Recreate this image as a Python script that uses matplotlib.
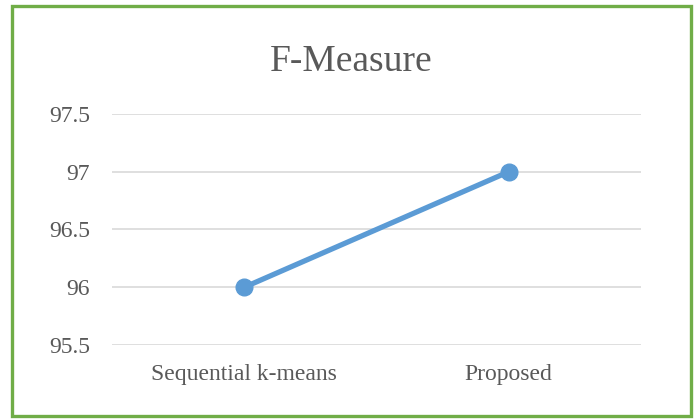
import matplotlib.pyplot as plt
from matplotlib.patches import Rectangle

methods = ["Sequential k-means", "Proposed"]
f_measure = [96, 97]
yticks = [95.5, 96, 96.5, 97, 97.5]
yticklabels = ["95.5", "96", "96.5", "97", "97.5"]

plt.rcParams["font.family"] = ["Liberation Serif", "DejaVu Serif"]
text_color = "#595959"

fig = plt.figure(figsize=(6.99, 4.19), dpi=100)
ax = fig.add_axes([112 / 699, 1 - 345 / 419, 529 / 699, 231 / 419])

x = range(len(methods))
ax.plot(x, f_measure, color="#5B9BD5", linewidth=3.8, marker="o",
        markersize=12, solid_capstyle="round", zorder=3)

ax.set_xlim(-0.5, len(methods) - 0.5)
ax.set_ylim(95.5, 97.5)
ax.set_xticks(list(x))
ax.set_xticklabels(methods)
ax.set_yticks(yticks)
ax.set_yticklabels(yticklabels)
ax.grid(axis="y", color="#D9D9D9", linewidth=1.2)
ax.set_axisbelow(True)
for side in ["top", "right", "left", "bottom"]:
    ax.spines[side].set_visible(False)
ax.tick_params(axis="both", length=0, labelsize=17, labelcolor=text_color)
ax.tick_params(axis="y", pad=16)
ax.tick_params(axis="x", pad=14)

fig.text(351 / 699, 1 - 62 / 419, "F-Measure", ha="center", va="center",
         fontsize=27, color=text_color)

# green frame around the whole chart
fig.patches.append(Rectangle((11.5 / 699, 1 - 416 / 419), 679 / 699, 410 / 419,
                             transform=fig.transFigure, fill=False,
                             edgecolor="#70AD47", linewidth=2.4))

fig.savefig("out.png", dpi=100)
